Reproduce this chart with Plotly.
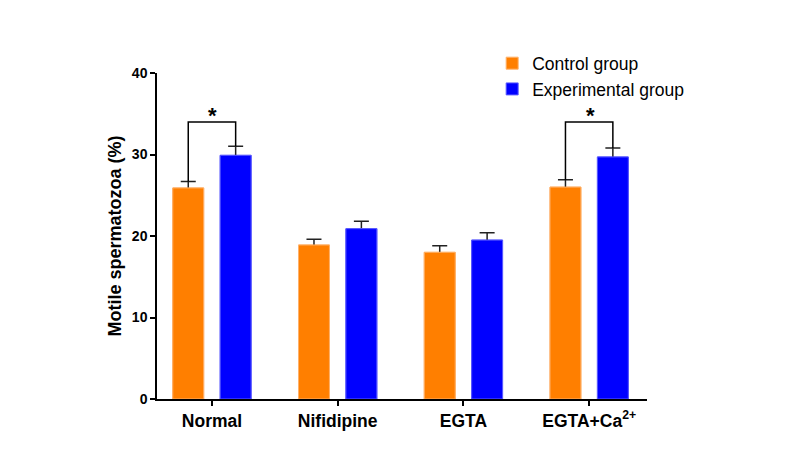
import plotly.graph_objects as go

categories = ["Normal", "Nifidipine", "EGTA", "EGTA+Ca<sup>2+</sup>"]
control = [25.9, 18.9, 18.0, 26.0]
control_err = [0.8, 0.7, 0.8, 0.9]
experimental = [29.9, 20.9, 19.5, 29.7]
experimental_err = [1.1, 0.9, 0.9, 1.1]
significant = [0, 3]
bracket_level = 34.0

pos = list(range(len(categories)))
off = 0.1885
bw = 0.246

FONT = "Liberation Sans, Arial"
ORANGE = "#FF7F00"
BLUE = "#0000FF"

fig = go.Figure()
series = [
    ("Control group", control, control_err, -off, ORANGE, "#FFB26B"),
    ("Experimental group", experimental, experimental_err, off, BLUE, "#5C5CFF"),
]
# bars with (symmetric) error bars underneath
for name, vals, errs, o, col, edge in series:
    fig.add_trace(go.Bar(
        x=[p + o for p in pos], y=vals, width=bw, name=name, showlegend=False,
        marker=dict(color=col, line=dict(color=edge, width=1)),
        error_y=dict(type="data", array=errs, color="#222222", thickness=1.5, width=7.5),
        hoverinfo="skip",
    ))
# same bars on top, hiding the lower half of the error bars
for name, vals, errs, o, col, edge in series:
    fig.add_trace(go.Bar(
        x=[p + o for p in pos], y=vals, width=bw, name=name, showlegend=True,
        marker=dict(color=col, line=dict(color=edge, width=1)),
    ))

for i in significant:
    x0 = i - off
    x1 = i + off
    y0 = control[i] + control_err[i]
    y1 = experimental[i] + experimental_err[i]
    fig.add_shape(type="path",
                  path=f"M {x0} {y0} L {x0} {bracket_level} L {x1} {bracket_level} L {x1} {y1}",
                  xref="x", yref="y", line=dict(color="black", width=1.5))
    fig.add_annotation(x=i, y=bracket_level, text="<b>*</b>", showarrow=False,
                       yanchor="bottom", yshift=-8, xshift=1,
                       font=dict(size=22, color="black", family=FONT))

fig.update_layout(
    width=788, height=457,
    margin=dict(l=157, r=141, t=73, b=58, autoexpand=False),
    plot_bgcolor="white", paper_bgcolor="white",
    font=dict(family=FONT, color="black"),
    showlegend=True,
    barmode="overlay",
    legend=dict(x=0.684, y=1.085, xanchor="left", yanchor="top",
                font=dict(size=17.5, color="black", family=FONT), bgcolor="rgba(0,0,0,0)",
                itemwidth=30, tracegroupgap=0, traceorder="normal"),
    xaxis=dict(range=[-0.437, 3.46], tickvals=pos, ticktext=[f"<b>{c}</b>" for c in categories],
               showline=True, linecolor="black", linewidth=1.5, ticks="outside",
               ticklen=5, tickwidth=1.5, tickcolor="black", showgrid=False, zeroline=False,
               tickfont=dict(size=17.5, color="black")),
    yaxis=dict(range=[0, 40], tickvals=[0, 10, 20, 30, 40],
               ticktext=["<b>0</b>", "<b>10</b>", "<b>20</b>", "<b>30</b>", "<b>40</b>"],
               showline=True, linecolor="black", linewidth=1.5, ticks="outside",
               ticklen=5, tickwidth=1.5, tickcolor="black", showgrid=False, zeroline=False,
               tickfont=dict(size=14, color="black"),
               title=dict(text="<b>Motile spermatozoa (%)</b>", font=dict(size=18, color="black"),
                          standoff=6)),
)

fig.write_html("out.html", config={"displayModeBar": False},
               post_script="document.body.style.margin='0';")
